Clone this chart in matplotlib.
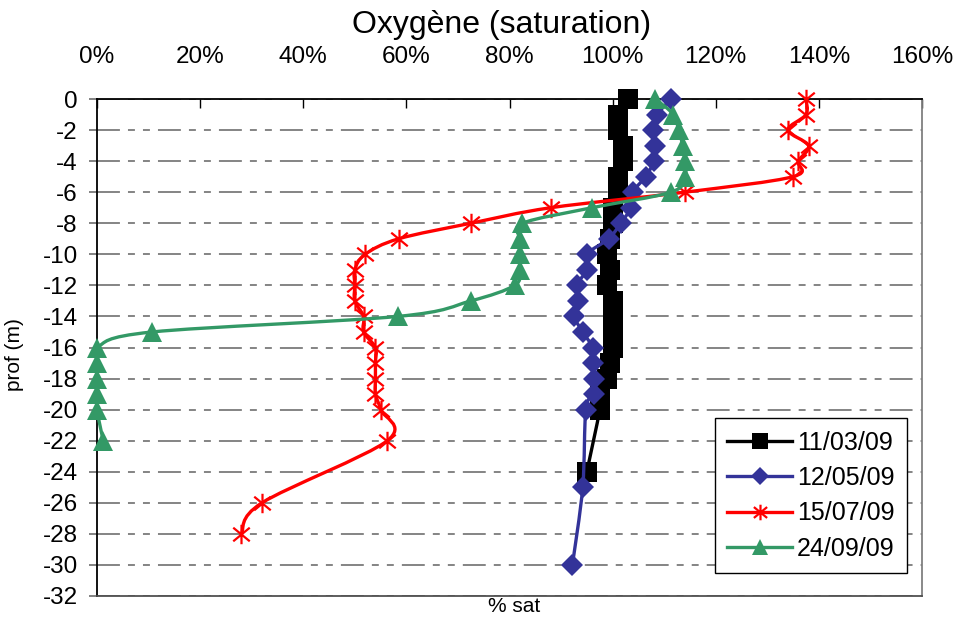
import matplotlib
matplotlib.use("Agg")
import matplotlib.pyplot as plt
from matplotlib.path import Path
from matplotlib.patches import PathPatch
from matplotlib.lines import Line2D
import numpy as np

plt.rcParams['font.family'] = ['Liberation Sans', 'DejaVu Sans']
plt.rcParams['lines.scale_dashes'] = False

# ---- data ----
title = "Oxygène (saturation)"
series_labels = ["11/03/09", "12/05/09", "15/07/09", "24/09/09"]

depth_1103 = [0, -1, -2, -3, -4, -5, -6, -7, -8, -9, -10, -11, -12, -13, -14, -15, -16, -17, -18, -19, -20, -24]
sat_1103 = [103, 101, 101, 102, 102, 101, 101, 100, 100, 99.5, 99, 99.5, 99, 100, 100, 100, 100, 99.5, 99, 97.5, 97.5, 95]

depth_1205 = [0, -1, -2, -3, -4, -5, -6, -7, -8, -9, -10, -11, -12, -13, -14, -15, -16, -17, -18, -19, -20, -25, -30]
sat_1205 = [111.3, 108.7, 107.8, 108.3, 108, 106.4, 103.9, 103.5, 101.6, 99.2, 95, 95, 93, 93.2, 92.6, 94.2, 96.1, 96.1, 96.3, 96.3, 94.8, 94.2, 92.2]

depth_1507 = [0, -1, -2, -3, -4, -5, -6, -7, -8, -9, -10, -11, -12, -13, -14, -15, -16, -17, -18, -19, -20, -22, -26, -28]
sat_1507 = [137.5, 137.5, 134, 138, 136, 135, 114, 88, 72.5, 58.5, 52, 50, 50, 50, 51.7, 51.7, 54, 54, 54, 54, 55, 56.3, 32, 28]

depth_2409 = [0, -1, -2, -3, -4, -5, -6, -7, -8, -9, -10, -11, -12, -13, -14, -15, -16, -17, -18, -19, -20, -22]
sat_2409 = [108.3, 111.8, 112.8, 113.6, 114, 114, 111.3, 96, 82.5, 82, 82, 82, 81, 72.5, 58.3, 10.7, 0, 0, 0, 0, 0, 1.2]

x_ticks = [0, 20, 40, 60, 80, 100, 120, 140, 160]
x_ticklabels = ["0%", "20%", "40%", "60%", "80%", "100%", "120%", "140%", "160%"]
y_ticks = list(range(0, -34, -2))

colors = ["#000000", "#333399", "#FF0000", "#339966"]

# asterisk marker (Excel star)
star = Path([(0, -1), (0, 1), (-0.85, -0.7), (0.85, 0.7), (-0.85, 0.7), (0.85, -0.7)],
            [Path.MOVETO, Path.LINETO, Path.MOVETO, Path.LINETO, Path.MOVETO, Path.LINETO])

markers = ['s', 'D', star, '^']
msizes = [14, 11, 14, 14.5]
mfc = [colors[0], colors[1], 'none', colors[3]]
mew = [0, 0, 1.6, 0]


def smooth_path(xs, ys):
    pts = np.column_stack([xs, ys]).astype(float)
    n = len(pts)
    verts = [pts[0]]
    codes = [Path.MOVETO]
    for i in range(n - 1):
        p0 = pts[i - 1] if i > 0 else pts[i]
        p1 = pts[i]
        p2 = pts[i + 1]
        p3 = pts[i + 2] if i + 2 < n else pts[i + 1]
        c1 = p1 + (p2 - p0) / 6.0
        c2 = p2 - (p3 - p1) / 6.0
        verts += [c1, c2, p2]
        codes += [Path.CURVE4, Path.CURVE4, Path.CURVE4]
    return Path(verts, codes)


fig = plt.figure(figsize=(9.59, 6.19), dpi=100)
ax = fig.add_axes([97 / 959, 1 - 596 / 619, 825 / 959, 497 / 619])

data = [(sat_1103, depth_1103), (sat_1205, depth_1205), (sat_1507, depth_1507), (sat_2409, depth_2409)]
handles = []
for i, (xs, ys) in enumerate(data):
    patch = PathPatch(smooth_path(xs, ys), facecolor='none', edgecolor=colors[i], lw=2.4,
                      zorder=3 + 2 * i, capstyle='round', joinstyle='round')
    ax.add_patch(patch)
    ax.plot(xs, ys, linestyle='none', marker=markers[i], markersize=msizes[i],
            markerfacecolor=mfc[i], markeredgecolor=colors[i], markeredgewidth=mew[i],
            zorder=4 + 2 * i, clip_on=False)
    handles.append(Line2D([], [], color=colors[i], lw=2.4, marker=markers[i],
                          markersize=msizes[i] * 0.8, markerfacecolor=mfc[i],
                          markeredgecolor=colors[i], markeredgewidth=mew[i]))

ax.set_xlim(0, 160)
ax.set_ylim(-32, 0)

ax.xaxis.tick_top()
ax.set_xticks(x_ticks)
ax.set_xticklabels(x_ticklabels)
ax.set_yticks(y_ticks)
ax.set_yticklabels([str(v) for v in y_ticks])
ax.tick_params(axis='x', direction='in', length=6.5, width=1, pad=22, labelsize=17.5, colors='black')
ax.tick_params(axis='y', direction='out', length=5.8, width=1.1, pad=8, labelsize=17.5,
               color='#606060', labelcolor='black')

ax.yaxis.grid(True, color='#707070', lw=1.2, linestyle=(0, (16.5, 5.8, 5, 5.8, 5, 5.8)))
ax.set_axisbelow(True)

for s in ['left', 'top']:
    ax.spines[s].set_color('black')
    ax.spines[s].set_linewidth(1.3)
ax.spines['right'].set_color('#808080')
ax.spines['right'].set_linewidth(1.3)
ax.spines['bottom'].set_color('#505050')
ax.spines['bottom'].set_linewidth(1.3)

fig.text(502 / 959, 1 - 25 / 619, title, ha='center', va='center', fontsize=23)
fig.text(514 / 959, 1 - 607 / 619, "% sat", ha='center', va='center', fontsize=15)
fig.text(15 / 959, 1 - 355 / 619, "prof (m)", ha='center', va='center', fontsize=15, rotation=90)

leg = ax.legend(handles, series_labels, loc='lower right', bbox_to_anchor=(0.982, 0.046),
                fontsize=18, frameon=True, fancybox=False, edgecolor='black', framealpha=1,
                handlelength=2.6, handletextpad=0.2, borderpad=0.5, labelspacing=0.45,
                borderaxespad=0)
leg.get_frame().set_linewidth(1.0)
leg.set_zorder(20)

fig.savefig("out.png", dpi=100)
